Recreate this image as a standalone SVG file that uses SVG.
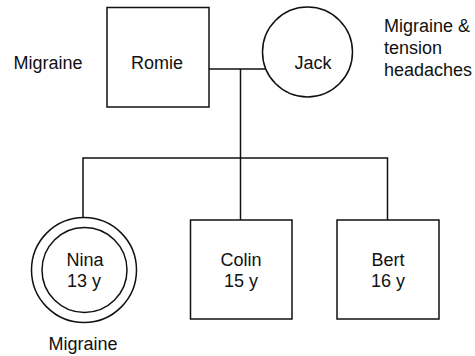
<svg xmlns="http://www.w3.org/2000/svg" width="475" height="356" viewBox="0 0 475 356">
<style>
.s{fill:#fff;stroke:#111;stroke-width:1.5}
.c{fill:none;stroke:#111;stroke-width:1.5}
text{font-family:"Liberation Sans",Arial,sans-serif;font-size:18px;fill:#111}
.m{text-anchor:middle}
</style>
<rect width="475" height="356" fill="#fff"/>
<g id="connectors">
<polyline class="c" points="209,69 266,69"/>
<polyline class="c" points="240.5,69 240.5,158"/>
<polyline class="c" points="83,217 83,158 387.5,158 387.5,220"/>
<polyline class="c" points="240.5,158 240.5,220"/>
</g>
<g id="romie">
<rect class="s" x="107" y="7.5" width="102" height="99.5"/>
<text class="m" x="157" y="69">Romie</text>
<text class="m" x="48" y="69">Migraine</text>
</g>
<g id="jack">
<circle class="s" cx="307.5" cy="52" r="45"/>
<text class="m" x="313" y="69">Jack</text>
<text x="384" y="32">Migraine &amp;</text>
<text x="384" y="54">tension</text>
<text x="384" y="76">headaches</text>
</g>
<g id="nina">
<circle class="s" cx="84" cy="270" r="52.5"/>
<circle class="s" cx="84.5" cy="270" r="42.5"/>
<text class="m" x="85" y="266">Nina</text>
<text class="m" x="84" y="287">13 y</text>
<text class="m" x="83" y="350">Migraine</text>
</g>
<g id="colin">
<rect class="s" x="190.5" y="220" width="101.5" height="99"/>
<text class="m" x="241" y="266">Colin</text>
<text class="m" x="241" y="287">15 y</text>
</g>
<g id="bert">
<rect class="s" x="337" y="220" width="102" height="99"/>
<text class="m" x="388" y="266">Bert</text>
<text class="m" x="388" y="287">16 y</text>
</g>
</svg>
